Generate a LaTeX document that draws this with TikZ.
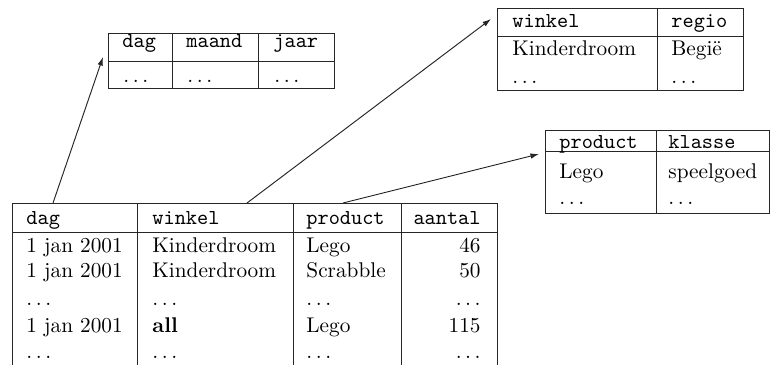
\documentclass[tikz,border=0pt]{standalone}
\usetikzlibrary{arrows.meta}
\newcommand{\dd}{\ensuremath{\ldots}}
\begin{document}
\begin{tikzpicture}[x=0.47pt,y=-0.47pt,
  grid/.style={draw=black!85, line width=0.45pt},
  hdr/.style={anchor=base west, inner sep=0pt, font=\ttfamily},
  cell/.style={anchor=base west, inner sep=0pt},
  rcell/.style={anchor=base east, inner sep=0pt},
  link/.style={draw=black!85, line width=0.45pt, -{Latex[length=4pt,width=2.6pt]}}]
\useasboundingbox (0,0) rectangle (770,365);

% ---------- main fact table ----------
\coordinate (mTL) at (12,203);
\coordinate (mTR) at (497,203);
\draw[grid] (12,366) -- (mTL) -- (mTR) -- (497,366);
\draw[grid] (12,232) -- (497,232);
\draw[grid] (137,203) -- (137,366);
\draw[grid] (293,203) -- (293,366);
\draw[grid] (401,203) -- (401,366);
\node[hdr] (hdag) at (26,224) {dag};
\node[hdr] (hwinkel) at (152,224) {winkel};
\node[hdr] (hproduct) at (306,224) {product};
\node[hdr, anchor=base east] (haantal) at (481,224) {aantal};
% rows
\node[cell] (r1a) at (26,252) {1 jan 2001};
\node[cell] (r1b) at (152,252) {Kinderdroom};
\node[cell] (r1c) at (306,252) {Lego};
\node[rcell] (r1d) at (481,252) {46};
\node[cell] (r2a) at (26,277) {1 jan 2001};
\node[cell] (r2b) at (152,277) {Kinderdroom};
\node[cell] (r2c) at (306,277) {Scrabble};
\node[rcell] (r2d) at (481,277) {50};
\node[cell] (r3a) at (26,305) {\dd};
\node[cell] (r3b) at (152,305) {\dd};
\node[cell] (r3c) at (306,305) {\dd};
\node[rcell] (r3d) at (481,305) {\dd};
\node[cell] (r4a) at (26,332) {1 jan 2001};
\node[cell] (r4b) at (152,332) {\textbf{all}};
\node[cell] (r4c) at (306,332) {Lego};
\node[rcell] (r4d) at (481,332) {115};
\node[cell] (r5a) at (26,358) {\dd};
\node[cell] (r5b) at (152,358) {\dd};
\node[cell] (r5c) at (306,358) {\dd};
\node[rcell] (r5d) at (481,358) {\dd};

% ---------- dag / maand / jaar ----------
\draw[grid] (108,33) rectangle (334,88);
\draw[grid] (108,61) -- (334,61);
\draw[grid] (172,33) -- (172,88);
\draw[grid] (258,33) -- (258,88);
\node[hdr] (tdag) at (122,47) {dag};
\node[hdr] (tmaand) at (186,47) {maand};
\node[hdr] (tjaar) at (273,47) {jaar};
\node[cell] (td1) at (123,82) {\dd};
\node[cell] (td2) at (187,82) {\dd};
\node[cell] (td3) at (274,82) {\dd};

% ---------- winkel / regio ----------
\draw[grid] (497,8) rectangle (743,90);
\draw[grid] (497,36) -- (743,36);
\draw[grid] (657,8) -- (657,90);
\node[hdr] (twinkel) at (512,27) {winkel};
\node[hdr] (tregio) at (671,27) {regio};
\node[cell] (tw1) at (512,55) {Kinderdroom};
\node[cell] (tw2) at (671,55) {Begië};
\node[cell] (tw3) at (512,83) {\dd};
\node[cell] (tw4) at (671,83) {\dd};

% ---------- product / klasse ----------
\draw[grid] (545,130) rectangle (769,213);
\draw[grid] (545,151) -- (769,151);
\draw[grid] (656,130) -- (656,213);
\node[hdr] (tproduct) at (559,148) {product};
\node[hdr] (tklasse) at (668,148) {klasse};
\node[cell] (tp1) at (559,178) {Lego};
\node[cell] (tp2) at (668,178) {speelgoed};
\node[cell] (tp3) at (559,204) {\dd};
\node[cell] (tp4) at (668,204) {\dd};

% ---------- connectors ----------
\coordinate (s1) at (53,203);
\coordinate (e1) at (103,57);
\coordinate (s2) at (247,203);
\coordinate (e2) at (491,19);
\coordinate (s3) at (343,203);
\coordinate (e3) at (539,154);
\draw[link] (s1) -- (e1);
\draw[link] (s2) -- (e2);
\draw[link] (s3) -- (e3);
\end{tikzpicture}
\end{document}
